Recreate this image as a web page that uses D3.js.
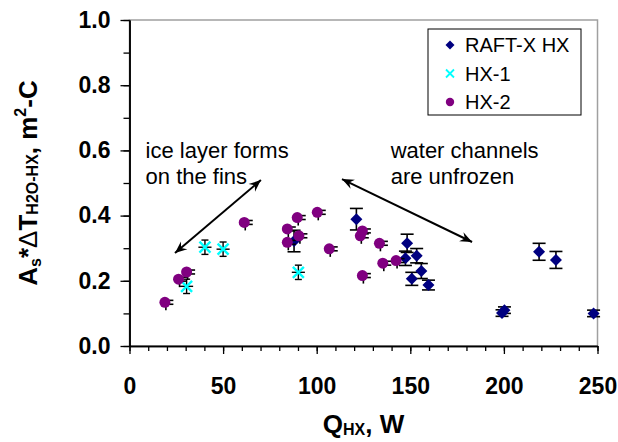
<!DOCTYPE html>
<html>
<head>
<meta charset="utf-8">
<script src="https://cdn.jsdelivr.net/npm/d3@7"></script>
<style>
  body { margin: 0; background: #fff; }
  svg { display: block; font-family: "Liberation Sans", Arial, sans-serif; }
</style>
</head>
<body>
<svg id="chart"></svg>
<script>
// values
var raftX   = [87.9, 121.2, 148.3, 147.4, 153.4, 155.9, 150.8, 159.7, 199.0, 200.3, 218.8, 227.8, 247.9];
var raftY   = [0.322, 0.389, 0.315, 0.269, 0.277, 0.230, 0.206, 0.187, 0.101, 0.110, 0.289, 0.264, 0.100];
var raftErr = [0.033, 0.033, 0.028, 0.022, 0.022, 0.023, 0.020, 0.015, 0.010, 0.010, 0.026, 0.026, 0.010];

var hx1X    = [30.5, 40.3, 50.0, 90.2];
var hx1Y    = [0.183, 0.303, 0.297, 0.226];
var hx1Err  = [0.022, 0.022, 0.022, 0.022];
var hx1XErr = [3.5, 3.5, 3.5, 3.5];

var hx2X    = [18.9, 26.2, 30.5, 61.3, 84.3, 84.3, 89.6, 90.5, 100.3, 106.7, 123.3, 124.4, 124.4, 133.5, 135.3, 142.4];
var hx2Y    = [0.134, 0.205, 0.227, 0.379, 0.359, 0.318, 0.394, 0.338, 0.410, 0.298, 0.338, 0.353, 0.216, 0.315, 0.254, 0.262];
var hx2Err  = [0.006, 0.006, 0.006, 0.006, 0.006, 0.006, 0.006, 0.006, 0.006, 0.006, 0.006, 0.006, 0.006, 0.006, 0.006, 0.006];

var xTicks = [0, 50, 100, 150, 200, 250];
var xMinor = d3.range(0, 251, 10);
var yTicks = [0, 0.2, 0.4, 0.6, 0.8, 1.0];
var yMinor = d3.range(0, 1.01, 0.1);

var seriesNames = ['RAFT-X HX', 'HX-1', 'HX-2'];

// annotations (data units)
var arrowStart = [[24.3, 0.285], [113.5, 0.512]];
var arrowEnd   = [[70.2, 0.509], [183.0, 0.319]];
var noteLines  = [['ice layer forms', 'on the fins'], ['water channels', 'are unfrozen']];
var noteX = [8.6, 139.5];
var noteY = [0.577, 0.577];

var navy = '#000080', cyan = '#00ffff', purple = '#800080';

var svg = d3.select('#chart').attr('width', 618).attr('height', 442);

var x = d3.scaleLinear().domain([0, 250]).range([129.5, 597.5]);
var y = d3.scaleLinear().domain([0, 1]).range([346, 20]);

// plot area border
svg.append('rect')
   .attr('x', x(0)).attr('y', y(1))
   .attr('width', x(250) - x(0)).attr('height', y(0) - y(1))
   .attr('fill', 'none').attr('stroke', '#a0a0a0').attr('stroke-width', 1.5);

// axes
svg.append('g').attr('transform', 'translate(0,' + y(0) + ')')
   .call(d3.axisBottom(x).tickValues(xMinor).tickSize(5).tickSizeOuter(0).tickFormat(''));
svg.append('g').attr('transform', 'translate(0,' + y(0) + ')')
   .call(d3.axisBottom(x).tickValues(xTicks).tickSize(8).tickSizeOuter(0).tickPadding(24).tickFormat(d3.format('d')));

svg.append('g').attr('transform', 'translate(' + x(0) + ',0)')
   .call(d3.axisLeft(y).tickValues(yMinor).tickSize(6).tickSizeOuter(0).tickFormat(''));
svg.append('g').attr('transform', 'translate(' + x(0) + ',0)')
   .call(d3.axisLeft(y).tickValues(yTicks).tickSize(9).tickSizeOuter(0).tickPadding(10).tickFormat(d3.format('.1f')));

svg.selectAll('.domain').attr('stroke', '#000').attr('stroke-width', 1.5);
svg.selectAll('.tick line').attr('stroke', '#000').attr('stroke-width', 1.3);
svg.selectAll('.tick text')
   .attr('fill', '#000').style('font-size', '23px').style('font-weight', 'bold')
   .style('font-family', '"Liberation Sans", Arial, sans-serif');

// helpers
function rows(xs, ys, es){
  return xs.map(function(v, i){ return {x: v, y: ys[i], e: es[i]}; });
}

function vBars(g, data, capHalf, dx, w){
  var b = g.selectAll(null).data(data).enter().append('g')
           .attr('stroke', '#000').attr('stroke-width', w);
  b.append('line')
   .attr('x1', function(d){ return x(d.x) + dx; }).attr('x2', function(d){ return x(d.x) + dx; })
   .attr('y1', function(d){ return y(d.y + d.e); }).attr('y2', function(d){ return y(d.y - d.e); });
  [1, -1].forEach(function(s){
    b.append('line')
     .attr('x1', function(d){ return x(d.x) + dx - capHalf; })
     .attr('x2', function(d){ return x(d.x) + dx + capHalf; })
     .attr('y1', function(d){ return y(d.y + s * d.e); })
     .attr('y2', function(d){ return y(d.y + s * d.e); });
  });
}

function diamond(sel, r){
  sel.append('path')
     .attr('d', 'M0,' + (-r) + 'L' + r + ',0L0,' + r + 'L' + (-r) + ',0Z')
     .attr('fill', navy);
}
function cross(sel, r, w){
  sel.append('path')
     .attr('d', 'M' + (-r) + ',' + (-r) + 'L' + r + ',' + r + 'M' + (-r) + ',' + r + 'L' + r + ',' + (-r))
     .attr('stroke', cyan).attr('stroke-width', w).attr('fill', 'none');
}
function dot(sel, r){
  sel.append('circle').attr('r', r).attr('fill', purple);
}

var plot = svg.append('g');

// RAFT-X HX
var raft = rows(raftX, raftY, raftErr);
vBars(plot.append('g'), raft, 6.5, 0, 1.6);
plot.append('g').selectAll('g').data(raft).enter().append('g')
    .attr('transform', function(d){ return 'translate(' + x(d.x) + ',' + y(d.y) + ')'; })
    .call(diamond, 6);

// HX-1
var hx1 = rows(hx1X, hx1Y, hx1Err);
vBars(plot.append('g'), hx1, 3.5, 0, 1.4);
plot.append('g').selectAll('line').data(hx1).enter().append('line')
    .attr('stroke', '#000').attr('stroke-width', 1.4)
    .attr('x1', function(d, i){ return x(d.x - hx1XErr[i]); })
    .attr('x2', function(d, i){ return x(d.x + hx1XErr[i]); })
    .attr('y1', function(d){ return y(d.y); }).attr('y2', function(d){ return y(d.y); });
plot.append('g').selectAll('g').data(hx1).enter().append('g')
    .attr('transform', function(d){ return 'translate(' + x(d.x) + ',' + y(d.y) + ')'; })
    .call(cross, 5.5, 2.4);

// HX-2
var hx2 = rows(hx2X, hx2Y, hx2Err);
vBars(plot.append('g'), hx2, 6, 2.5, 1.6);
plot.append('g').selectAll('line').data(hx2).enter().append('line')
    .attr('stroke', '#000').attr('stroke-width', 1.6)
    .attr('x1', function(d){ return x(d.x) + 1; }).attr('x2', function(d){ return x(d.x) + 1; })
    .attr('y1', function(d){ return y(d.y); }).attr('y2', function(d){ return y(d.y) + 8; });
plot.append('g').selectAll('g').data(hx2).enter().append('g')
    .attr('transform', function(d){ return 'translate(' + x(d.x) + ',' + y(d.y) + ')'; })
    .call(dot, 5.5);

// arrows
var defs = svg.append('defs');
defs.append('marker').attr('id', 'ah').attr('viewBox', '-12 -6 14 12')
    .attr('refX', 0).attr('refY', 0).attr('markerWidth', 14).attr('markerHeight', 12)
    .attr('markerUnits', 'userSpaceOnUse').attr('orient', 'auto-start-reverse')
  .append('path').attr('d', 'M0,0L-12,-5L-8,0L-12,5Z').attr('fill', '#000');

svg.append('g').selectAll('line').data(arrowStart).enter().append('line')
   .attr('x1', function(d){ return x(d[0]); }).attr('y1', function(d){ return y(d[1]); })
   .attr('x2', function(d, i){ return x(arrowEnd[i][0]); }).attr('y2', function(d, i){ return y(arrowEnd[i][1]); })
   .attr('stroke', '#000').attr('stroke-width', 2)
   .attr('marker-start', 'url(#ah)').attr('marker-end', 'url(#ah)');

var notes = svg.append('g').selectAll('text').data(noteLines).enter().append('text')
   .attr('x', function(d, i){ return x(noteX[i]); })
   .attr('y', function(d, i){ return y(noteY[i]); })
   .style('font-size', '22px').attr('fill', '#000');
notes.selectAll('tspan').data(function(d){ return d; }).enter().append('tspan')
   .attr('x', function(){ return this.parentNode.getAttribute('x'); })
   .attr('dy', function(d, i){ return i ? 26 : 0; })
   .text(function(d){ return d; });

// legend
var lg = svg.append('g').attr('transform', 'translate(428,29)');
lg.append('rect').attr('width', 153).attr('height', 86)
  .attr('fill', '#fff').attr('stroke', '#000').attr('stroke-width', 1);
var markers = [function(s){ diamond(s, 4.5); }, function(s){ cross(s, 4, 1.8); }, function(s){ dot(s, 4.2); }];
var item = lg.selectAll('g.item').data(seriesNames).enter().append('g').attr('class', 'item')
  .attr('transform', function(d, i){ return 'translate(0,' + (16 + i * 28.5) + ')'; });
item.each(function(d, i){
  var m = d3.select(this).append('g').attr('transform', 'translate(22,0)');
  markers[i](m);
});
item.append('text').attr('x', 37).attr('dy', '0.35em')
  .style('font-size', '20px').attr('fill', '#000')
  .text(function(d){ return d; });

// axis titles
var xt = svg.append('text').attr('transform', 'translate(363.5,433)')
   .attr('text-anchor', 'middle').style('font-weight', 'bold').style('font-size', '26px');
xt.append('tspan').text('Q');
xt.append('tspan').attr('dy', 2).style('font-size', '16px').text('HX');
xt.append('tspan').attr('dy', -2).text(', W');

var yt = svg.append('text').attr('transform', 'translate(37,183) rotate(-90)')
   .attr('text-anchor', 'middle').style('font-weight', 'bold').style('font-size', '26px');
yt.append('tspan').text('A');
yt.append('tspan').attr('dy', 4).style('font-size', '16px').text('s');
yt.append('tspan').attr('dy', -4).text('*');
yt.append('tspan').style('font-weight', 'normal').text('\u0394');
yt.append('tspan').text('T');
yt.append('tspan').attr('dy', 1).style('font-size', '16px').text('H2O-HX');
yt.append('tspan').attr('dy', -1).text(', m');
yt.append('tspan').attr('dy', -11).style('font-size', '16px').text('2');
yt.append('tspan').attr('dy', 11).text('-C');
</script>
</body>
</html>
